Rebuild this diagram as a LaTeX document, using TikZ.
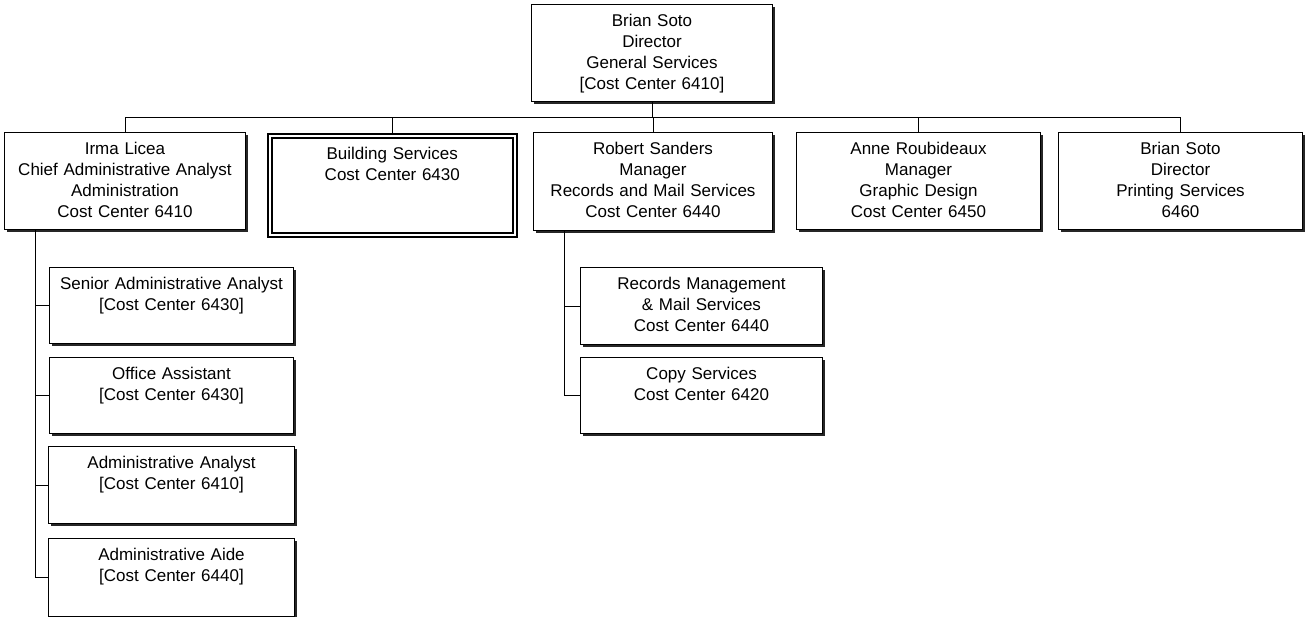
\documentclass[tikz,border=0pt]{standalone}
\usepackage{fontspec}
\setmainfont{Liberation Sans}
\usepackage{tikz}
\usetikzlibrary{shadows, positioning, calc}

\newcommand\boxfont{\fontsize{17}{21}\selectfont}

\begin{document}
\begin{tikzpicture}[
    x=1pt, y=-1pt,
    box/.style={draw, line width=1pt, fill=white, anchor=north west, inner sep=0pt, align=center, font=\boxfont, text height=22pt,
        drop shadow={shadow xshift=2.5pt, shadow yshift=-2.5pt, fill=black!85, opacity=1}},
    dblbox/.style={draw, line width=1.6pt, double, double distance=2.6pt, fill=white, anchor=north west, inner sep=0pt, align=center, font=\boxfont, text height=24pt},
    link/.style={line width=1pt}
]
\path[use as bounding box, fill=white] (0,0) rectangle (1306,616);

% Level 1 - Director
\node[box, text width=241pt, text depth=75pt] (dir) at (531,4) {Brian Soto\\Director\\General Services\\{[}Cost Center 6410{]}};

% Level 2 - Divisions
\node[box, text width=241pt, text depth=75pt] (irma) at (4,132) {Irma Licea\\Chief Administrative Analyst\\Administration\\Cost Center 6410};
\node[dblbox, text width=245pt, text depth=75pt] (bldg) at (269,135) {Building Services\\Cost Center 6430};
\node[box, text width=239pt, text depth=76pt] (rob) at (533,132) {Robert Sanders\\Manager\\Records and Mail Services\\Cost Center 6440};
\node[box, text width=244pt, text depth=75pt] (anne) at (796,132) {Anne Roubideaux\\Manager\\Graphic Design\\Cost Center 6450};
\node[box, text width=244pt, text depth=75pt] (prt) at (1058,132) {Brian Soto\\Director\\Printing Services\\6460};

% Level 3 - Administration staff
\node[box, text width=244pt, text depth=54pt] (senior) at (49,267) {Senior Administrative Analyst\\{[}Cost Center 6430{]}};
\node[box, text width=244pt, text depth=54pt, below=13pt of senior] (office) {Office Assistant\\{[}Cost Center 6430{]}};
\node[box, text width=246pt, text depth=55pt, below=12pt of office] (analyst) {Administrative Analyst\\{[}Cost Center 6410{]}};
\node[box, text width=246pt, text depth=56pt, below=14pt of analyst] (aide) {Administrative Aide\\{[}Cost Center 6440{]}};

% Level 3 - Records and Mail staff
\node[box, text width=242pt, text depth=55pt] (rec) at (580,267) {Records Management\\\& Mail Services\\Cost Center 6440};
\node[box, text width=242pt, text depth=54pt, below=12pt of rec] (copy) {Copy Services\\Cost Center 6420};

% Connectors
\coordinate (bus) at (0,117);
\draw[link] (dir.south) -- (dir.south |- bus);
\draw[link] (irma.north) |- (prt.north |- bus) -- (prt.north);
\foreach \n in {bldg, rob, anne}
    \draw[link] (\n.north) -- (\n.north |- bus);

\coordinate (ltrunk) at ([xshift=31pt]irma.south west);
\draw[link] (ltrunk) |- (aide.west);
\foreach \n in {senior, office, analyst}
    \draw[link] (ltrunk |- \n.west) -- (\n.west);

\coordinate (rtrunk) at ([xshift=31pt]rob.south west);
\draw[link] (rtrunk) |- (copy.west);
\draw[link] (rtrunk |- rec.west) -- (rec.west);

\end{tikzpicture}
\end{document}
